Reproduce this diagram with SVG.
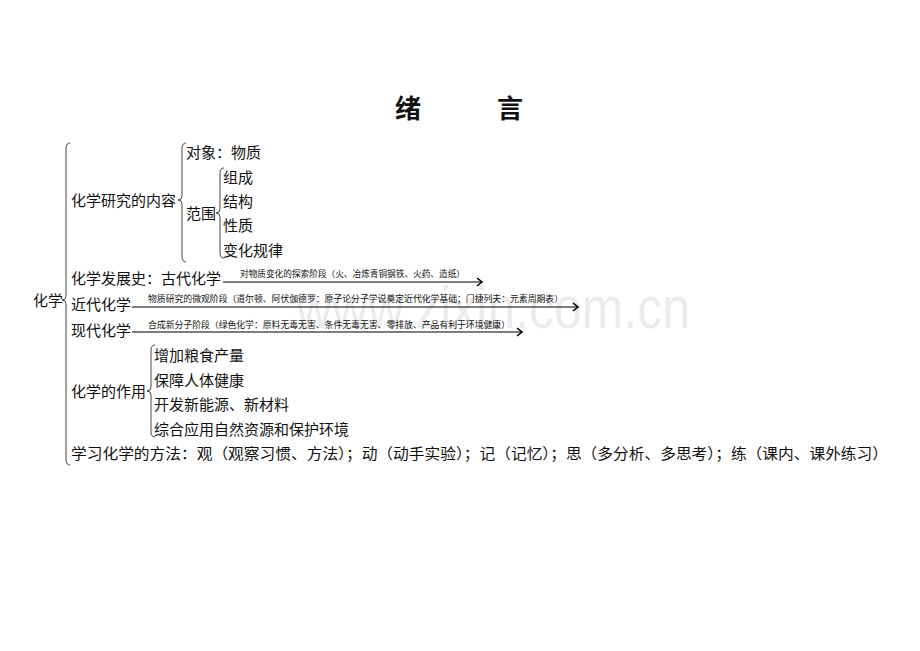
<svg xmlns="http://www.w3.org/2000/svg" width="920" height="651" viewBox="0 0 920 651">
<style>
text{font-family:"Noto Sans CJK SC","Liberation Serif",sans-serif;fill:#111}
.t{font-size:15px}
.s{font-size:8.8px}
.h{font-size:26px;font-weight:bold}
.wm{font-family:"Liberation Sans",sans-serif;font-size:60px;fill:#ececec}
.br{fill:none;stroke:#444;stroke-width:1}
.ar{fill:none;stroke:#000;stroke-width:1.2}
</style>
<defs>
<marker id="arr" markerWidth="10" markerHeight="10" refX="7" refY="5" orient="auto" markerUnits="userSpaceOnUse">
<polyline points="2,1 7,5 2,9" fill="none" stroke="#000" stroke-width="1.6"/>
</marker>
</defs>
<rect width="920" height="651" fill="#fff"/>
<text class="wm" x="296" y="328" textLength="394" lengthAdjust="spacingAndGlyphs">www.zixin.com.cn</text>
<g id="title"><text class="h" x="395" y="118">绪</text><text class="h" x="497" y="118">言</text></g>
<g id="root"><text class="t" x="33" y="306">化学</text></g>
<g id="braces">
<path class="br" d="M70,143 Q66,143 66,149 L66,296 Q66,300 62,300 Q66,300 66,304 L66,459 Q66,465 70,465"/>
<path class="br" d="M186,143 Q182,143 182,149 L182,196 Q182,200 178,200 Q182,200 182,204 L182,256 Q182,262 186,262"/>
<path class="br" d="M224,168 Q220,168 220,173 L220,209 Q220,213 216,213 Q220,213 220,217 L220,253 Q220,258 224,258"/>
<path class="br" d="M155,345 Q151,345 151,350 L151,387 Q151,391 147,391 Q151,391 151,395 L151,432 Q151,437 155,437"/>
</g>
<g id="research">
<text class="t" x="71" y="206">化学研究的内容</text>
<text class="t" x="186" y="158">对象：物质</text>
<text class="t" x="186" y="219">范围</text>
<text class="t" x="223" y="183">组成</text>
<text class="t" x="223" y="207">结构</text>
<text class="t" x="223" y="231">性质</text>
<text class="t" x="223" y="256">变化规律</text>
</g>
<g id="history">
<text class="t" x="71" y="284">化学发展史：古代化学</text>
<text class="t" x="71" y="310">近代化学</text>
<text class="t" x="71" y="336">现代化学</text>
</g>
<g id="connectors">
<line class="ar" x1="223" y1="282" x2="482" y2="282" marker-end="url(#arr)"/>
<line class="ar" x1="132" y1="307" x2="578" y2="307" marker-end="url(#arr)"/>
<line class="ar" x1="132" y1="332" x2="522" y2="332" marker-end="url(#arr)"/>
</g>
<g id="labels">
<text class="s" x="240" y="277" textLength="225" lengthAdjust="spacingAndGlyphs">对物质变化的探索阶段（火、冶炼青铜钢铁、火药、造纸）</text>
<text class="s" x="148" y="302" textLength="415" lengthAdjust="spacingAndGlyphs">物质研究的微观阶段（道尔顿、阿伏伽德罗：原子论分子学说奠定近代化学基础；门捷列夫：元素周期表）</text>
<text class="s" x="148" y="328" textLength="362" lengthAdjust="spacingAndGlyphs">合成新分子阶段（绿色化学：原料无毒无害、条件无毒无害、零排放、产品有利于环境健康）</text>
</g>
<g id="role">
<text class="t" x="71" y="397">化学的作用</text>
<text class="t" x="154" y="361">增加粮食产量</text>
<text class="t" x="154" y="386">保障人体健康</text>
<text class="t" x="154" y="410">开发新能源、新材料</text>
<text class="t" x="154" y="435">综合应用自然资源和保护环境</text>
</g>
<g id="method">
<text class="t" x="71" y="459" textLength="817" lengthAdjust="spacingAndGlyphs">学习化学的方法：观（观察习惯、方法）；动（动手实验）；记（记忆）；思（多分析、多思考）；练（课内、课外练习）</text>
</g>
</svg>
